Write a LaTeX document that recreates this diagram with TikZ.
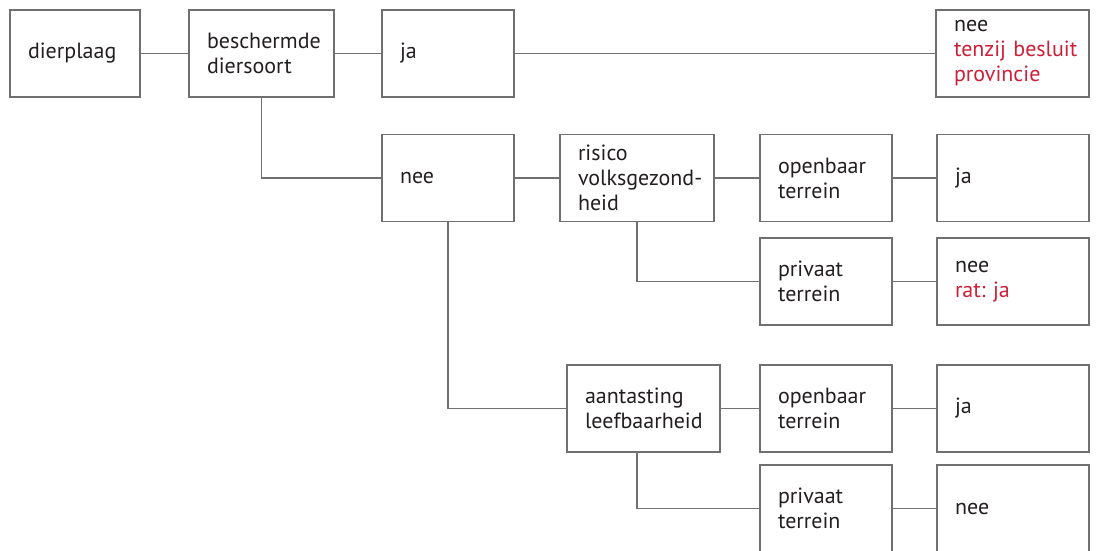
\documentclass[tikz,border=0pt]{standalone}
\usepackage{fontspec}
\setmainfont{PT Sans}
\frenchspacing
\usepackage{tikz}
\usetikzlibrary{positioning}
\definecolor{linegray}{RGB}{112,112,112}
\definecolor{inkblack}{RGB}{35,31,32}
\definecolor{provred}{RGB}{205,32,56}
\tikzset{font={\fontsize{16.5pt}{18.75pt}\selectfont}}
\tikzset{box/.style={rectangle, draw=linegray, line width=1pt, text=inkblack,
    minimum height=65.25pt, inner xsep=13.5pt, inner ysep=0pt,
    align=left, text width=#1}}
\tikzset{link/.style={draw=linegray, line width=1pt}}

\begin{document}
\begin{tikzpicture}[x=0.75pt, y=-0.75pt]

	\useasboundingbox (0,0) rectangle (1098,550);
	\clip (0,0) rectangle (1098,550);

	% first row
	\node (dierplaag) [box=70.5pt] at (75,53.5) {dierplaag};
	\node (beschermd) [box=81.75pt] at (261.5,53.5) {beschermde\\diersoort};
	\node (ja_top) [box=72pt] at (448,53.5) {ja};
	\node (nee_top) [box=87.75pt] at (1012.5,53.5) {nee\\\textcolor{provred}{\mbox{tenzij besluit}}\\\textcolor{provred}{provincie}};

	% volksgezondheid
	\node (nee_mid) [box=72pt] at (448,178) {nee};
	\node (risico) [box=88.5pt] at (637,178) {risico\\\mbox{volksgezond-}\\heid};
	\node (openbaar_a) [box=72pt] at (826,178) {openbaar\\terrein};
	\node (ja_a) [box=87pt] at (1013,178) {ja};
	\node (privaat_a) [box=72pt] at (826,281.5) {privaat\\terrein};
	\node (nee_a) [box=87pt] at (1013,281.5) {nee\\\textcolor{provred}{rat: ja}};

	% leefbaarheid
	\node (aantasting) [box=87.75pt] at (643.5,408.5) {aantasting\\leefbaarheid};
	\node (openbaar_b) [box=72pt] at (826,408.5) {openbaar\\terrein};
	\node (ja_b) [box=87pt] at (1013,408.5) {ja};
	\node (privaat_b) [box=72pt] at (826,508.5) {privaat\\terrein};
	\node (nee_b) [box=87pt] at (1013,508.5) {nee};

	\draw[link] (dierplaag) -- (beschermd);
	\draw[link] (beschermd) -- (ja_top);
	\draw[link] (ja_top) -- (nee_top);

	\draw[link] (beschermd.south) |- (nee_mid.west);
	\draw[link] (nee_mid) -- (risico);
	\draw[link] (risico) -- (openbaar_a);
	\draw[link] (openbaar_a) -- (ja_a);
	\draw[link] (risico.south) |- (privaat_a.west);
	\draw[link] (privaat_a) -- (nee_a);

	\draw[link] (nee_mid.south) |- (aantasting.west);
	\draw[link] (aantasting) -- (openbaar_b);
	\draw[link] (openbaar_b) -- (ja_b);
	\draw[link] (risico.south |- aantasting.south) |- (privaat_b.west);
	\draw[link] (privaat_b) -- (nee_b);

\end{tikzpicture}
\end{document}
